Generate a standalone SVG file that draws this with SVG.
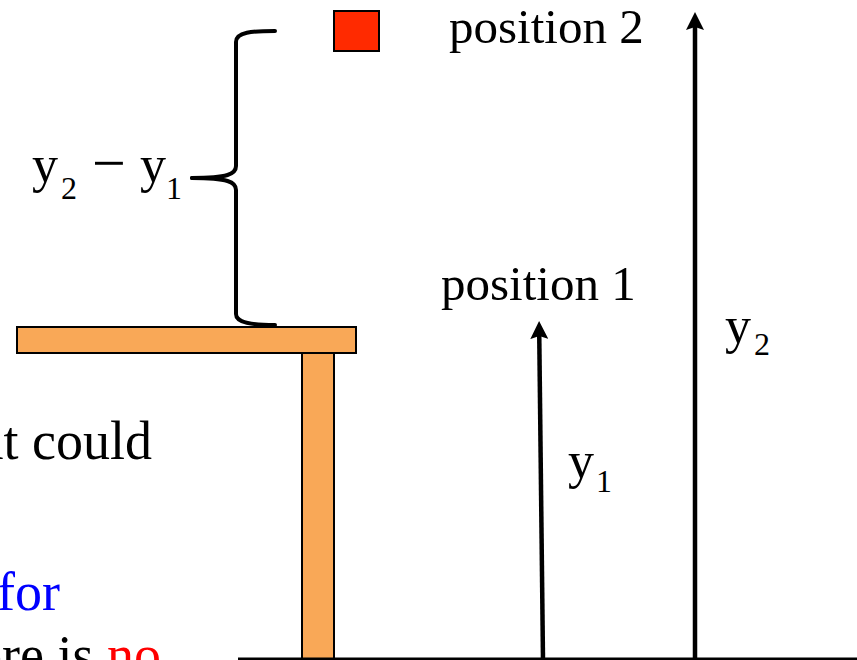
<svg xmlns="http://www.w3.org/2000/svg" width="857" height="660" viewBox="0 0 857 660">
  <style>
    .t { font-family: "Liberation Serif", "Times New Roman", serif; fill: #000; }
    .pos { font-size: 49px; }
    .body { font-size: 54px; }
    .var { font-size: 52px; }
    .sub { font-size: 32px; }
    .wood { fill: #F9A857; stroke: #000; stroke-width: 2; }
    .arrow { stroke: #000; stroke-width: 4.5; fill: none; marker-end: url(#head); }
    .brace { stroke: #000; stroke-width: 4; fill: none; stroke-linecap: round; }
  </style>
  <defs>
    <marker id="head" markerUnits="userSpaceOnUse" markerWidth="18" markerHeight="18" viewBox="0 0 18 18" refX="8" refY="9" orient="auto">
      <path d="M0,0 L18,9 L0,18 L3,9 z" fill="#000"/>
    </marker>
  </defs>
  <rect width="857" height="660" fill="#fff"/>

  <g id="body-text">
    <text class="t body" x="152" y="459" text-anchor="end">at could</text>
    <text class="t body" x="-3" y="610" style="fill:#0000FF">for</text>
    <text class="t body" x="-22" y="673">ere is <tspan style="fill:#FF0000">no</tspan></text>
  </g>

  <g id="table">
    <rect class="wood" x="302" y="352" width="32" height="312"/>
    <rect class="wood" x="17" y="327" width="339" height="26"/>
  </g>

  <g id="ground">
    <line x1="238" y1="659" x2="857" y2="659" stroke="#000" stroke-width="3"/>
  </g>

  <g id="block">
    <rect x="334" y="11" width="45" height="40" fill="#FF2A00" stroke="#000" stroke-width="2"/>
  </g>

  <g id="label-position2">
    <text class="t pos" x="449" y="43">position 2</text>
  </g>
  <g id="label-position1">
    <text class="t pos" x="441" y="300">position 1</text>
  </g>

  <g id="brace">
    <path class="brace" d="M275,31 C252,31 236,32 236,42 L236,166 C236,174 228,178 192,178"/>
    <path class="brace" d="M192,178 C228,178 236,182 236,190 L236,314 C236,323 252,325 275,325"/>
  </g>

  <g id="label-diff">
    <text class="t var" x="32" y="182">y</text>
    <text class="t sub" x="61" y="199">2</text>
    <text class="t var" x="92" y="183" style="font-size:60px">−</text>
    <text class="t var" x="140" y="182">y</text>
    <text class="t sub" x="166" y="199">1</text>
  </g>

  <g id="connectors">
    <line class="arrow" x1="543" y1="660" x2="539.2" y2="331"/>
    <line class="arrow" x1="695" y1="660" x2="695" y2="22"/>
  </g>

  <g id="label-y1">
    <text class="t var" x="568" y="478">y</text>
    <text class="t sub" x="596" y="492">1</text>
  </g>
  <g id="label-y2">
    <text class="t var" x="725" y="343">y</text>
    <text class="t sub" x="754" y="355">2</text>
  </g>
</svg>
